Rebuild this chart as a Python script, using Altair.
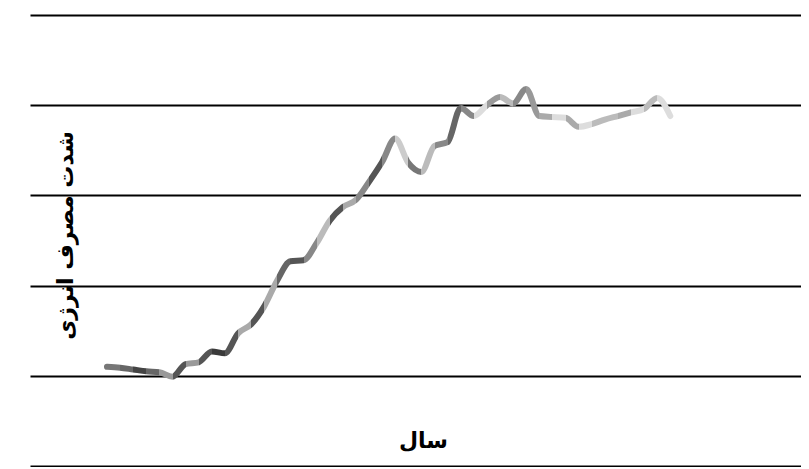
import altair as alt
import pandas as pd

YEARS = list(range(1971, 2015))
INTENSITY = [
    1.10, 1.09, 1.07, 1.05, 1.04, 0.99, 1.13, 1.15, 1.27, 1.25,
    1.47, 1.57, 1.77, 2.06, 2.27, 2.28, 2.47, 2.72, 2.87, 2.95,
    3.15, 3.37, 3.63, 3.36, 3.26, 3.55, 3.59, 3.97, 3.88, 4.00,
    4.09, 4.02, 4.18, 3.88, 3.87, 3.86, 3.76, 3.79, 3.84, 3.88,
    3.92, 3.96, 4.08, 3.88,
]
GRID_VALUES = [0, 1, 2, 3, 4, 5]

# Gray shade of each segment between consecutive years
SEGMENT_COLORS = [
    "#777777", "#666666", "#444444", "#666666", "#999999", "#555555", "#999999",
    "#555555", "#3a3a3a", "#555555", "#aaaaaa", "#555555", "#aaaaaa", "#666666",
    "#555555", "#888888", "#bbbbbb", "#555555", "#aaaaaa", "#888888", "#555555",
    "#888888", "#cccccc", "#777777", "#bbbbbb", "#888888", "#666666", "#888888",
    "#dddddd", "#999999", "#bbbbbb", "#888888", "#999999", "#aaaaaa", "#dddddd",
    "#aaaaaa", "#dddddd", "#bbbbbb", "#bbbbbb", "#aaaaaa", "#dddddd", "#bbbbbb",
    "#dddddd",
]

n_seg = len(YEARS) - 1
stops = []
for k, c in enumerate(SEGMENT_COLORS):
    stops.append(alt.GradientStop(color=c, offset=k / n_seg))
    stops.append(alt.GradientStop(color=c, offset=(k + 1) / n_seg))

df = pd.DataFrame({"year": YEARS, "value": INTENSITY})

FONT = "DejaVu Sans"
PLOT_W = 771
PLOT_H = 451

line = alt.Chart(df).mark_line(
    interpolate="monotone",
    strokeWidth=6,
    strokeCap="round",
    strokeJoin="round",
    stroke=alt.LinearGradient(gradient="linear", stops=stops, x1=0, x2=1, y1=0, y2=0),
).encode(
    x=alt.X(
        "year:Q",
        scale=alt.Scale(domain=[1965.122, 2023.977], nice=False, zero=False),
        axis=alt.Axis(
            title="سال", grid=False, labels=False, ticks=False, domain=False,
            titleX=393, titleY=-26, titleAlign="center", titleBaseline="middle",
            titleFont=FONT, titleFontSize=22, titleFontWeight="bold", titleColor="black",
        ),
    ),
    y=alt.Y(
        "value:Q",
        scale=alt.Scale(domain=[0, 5], nice=False),
        axis=alt.Axis(
            title="شدت مصرف انرژی", values=GRID_VALUES, grid=True, gridColor="black",
            gridWidth=2, gridOpacity=1, labels=False, ticks=False, domain=False,
            titleX=35, titleY=220, titleAngle=270, titleAlign="center", titleBaseline="middle",
            titleFont=FONT, titleFontSize=22, titleFontWeight="bold", titleColor="black",
        ),
    ),
).properties(
    width=PLOT_W,
    height=PLOT_H,
    padding={"left": 22, "top": 7, "right": 0, "bottom": 1},
    autosize=alt.AutoSizeParams(type="none"),
).configure_view(stroke=None)

chart = line
chart.save("out.html", embed_options={"renderer": "svg", "actions": False})
